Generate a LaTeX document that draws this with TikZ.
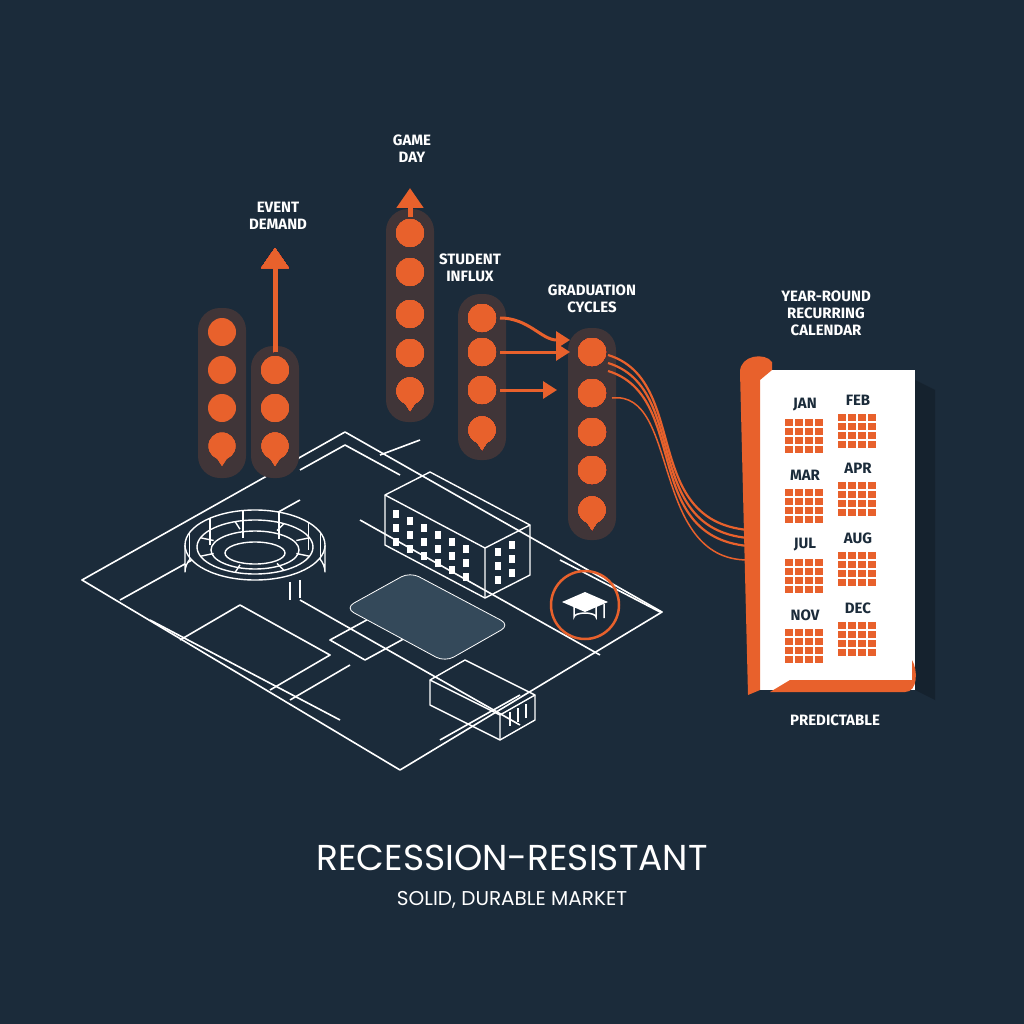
\documentclass[tikz,border=0pt]{standalone}
\usepackage{fontspec}
\setmainfont{Fira Sans}
\newfontfamily\titlefont{Poppins}
\usetikzlibrary{arrows.meta,calc}
\definecolor{bg}{HTML}{1B2B3A}
\definecolor{org}{HTML}{E8612C}
\definecolor{pad}{HTML}{34495A}
\colorlet{glow}{bg!82!org}
\newcommand\dotat[2]{\fill[org] (#1,#2) circle (14);}
\newcommand\pinat[2]{\fill[org] ($(#1,#2)+(-13,-6)$) arc (180:360:13) -- ($(#1,#2)+(0,14)$) -- cycle; \fill[org] ($(#1,#2)+(0,-6)$) circle (13.5);}
\tikzset{lbl/.style={text=white,font=\bfseries\fontsize{15}{17}\selectfont,align=center},
 mapl/.style={draw=white,line width=1.6pt,line join=round},
 arr/.style={org,line width=3pt,-{Triangle[length=14pt,width=17pt]}},
 bigarr/.style={org,line width=5pt,-{Triangle[length=20pt,width=26pt]}}}
\begin{document}
\begin{tikzpicture}[x=1pt,y=-1pt]
\fill[bg] (0,0) rectangle (1024,1024);
\useasboundingbox (0,0) rectangle (1024,1024);
% map
\draw[mapl] (82,580) -- (345,432) -- (662,612) -- (400,770) -- cycle;
\draw[mapl] (120,600) -- (300,500);
\draw[mapl] (180,640) -- (240,605) -- (330,655) -- (270,690);
\draw[mapl] (290,700) -- (350,665);
\draw[mapl] (150,620) -- (340,720);
\draw[mapl] (300,600) -- (520,725);
\draw[mapl] (360,520) -- (600,655);
\draw[mapl] (330,640) -- (385,610) -- (420,630) -- (365,660) -- cycle;
\draw[mapl] (300,470) -- (345,445) -- (400,475);
\draw[mapl] (380,455) -- (420,440);
\draw[mapl] (560,560) -- (660,612);
\draw[mapl] (440,740) -- (520,695);
\fill[pad,draw=white!60,line width=0.8pt,rounded corners=10pt] (345,608) -- (410,572) -- (510,625) -- (445,662) -- cycle;
% stadium
\begin{scope}[mapl,line width=1.4pt]
\draw[fill=bg] (185,545) -- (185,572) arc (180:360:70 and 35) -- (325,545);
\draw[fill=bg] (255,545) ellipse (70 and 35);
\draw (255,547) ellipse (58 and 27);
\draw (255,550) ellipse (44 and 19);
\draw (255,553) ellipse (30 and 11);
\foreach \a in {20,60,110,160,200,250,300,340} \draw (255,547)++(\a:58 and 27) -- ++(\a:-14 and -8);
\foreach \a in {200,230,260,290,320,340} \draw (255,545)++(\a:70 and 35) -- ++(0,27);
\draw (290,582) -- (290,600) (300,580) -- (300,598);
\end{scope}
% building
\begin{scope}[mapl,line width=1.4pt]
\draw (385,495) -- (430,472) -- (530,525) -- (530,575) -- (485,598) -- (385,545) -- cycle;
\draw (385,495) -- (485,548) -- (530,525) (485,548) -- (485,598);
\foreach \i in {0,1,2,3,4,5} \foreach \j in {0,1,2} \fill[white] (393+\i*14,510+\i*7+\j*14) rectangle ++(6,8);
\foreach \i in {0,1} \foreach \j in {0,1,2} \fill[white] (495+\i*14,548-\i*7+\j*14) rectangle ++(6,8);
\end{scope}
% house
\begin{scope}[mapl,line width=1.4pt]
\draw (430,680) -- (465,660) -- (535,695) -- (535,720) -- (500,740) -- (430,705) -- cycle;
\draw (430,680) -- (500,715) -- (535,695) (500,715) -- (500,740);
\foreach \i in {0,1,2} \draw (510+\i*8,712-\i*4) -- ++(0,14);
\end{scope}
% graduation
\draw[org,line width=2.5pt] (585,605) circle (34);
\fill[white] (585,592) -- (608,602) -- (585,612) -- (562,602) -- cycle;
\draw[white,line width=1.5pt] (574,607) -- (574,617) arc (180:360:11 and 4) -- (596,607) (604,604) -- (604,618);
% glows
\fill[glow,rounded corners=22pt] (198,308) rectangle (246,478);
\fill[glow,rounded corners=22pt] (251,346) rectangle (299,478);
\fill[glow,rounded corners=22pt] (386,209) rectangle (434,422);
\fill[glow,rounded corners=22pt] (458,294) rectangle (506,460);
\fill[glow,rounded corners=22pt] (568,328) rectangle (616,540);
% dots
\foreach \y in {332,370,408} \dotat{222}{\y}
\pinat{222}{452}
\foreach \y in {370,408} \dotat{275}{\y}
\pinat{275}{452}
\foreach \y in {233,272,314,353} \dotat{410}{\y}
\pinat{410}{397}
\foreach \y in {318,352,390} \dotat{482}{\y}
\pinat{482}{436}
\foreach \y in {352,393,432,470} \dotat{592}{\y}
\pinat{592}{516}
\draw[bigarr] (275,352) -- (275,248);
\draw[bigarr] (410,217) -- (410,188);
\draw[arr] (500,318) to[out=0,in=180] (570,340);
\draw[arr] (500,352) -- (570,352);
\draw[arr] (500,390) -- (557,390);
% ribbons
\foreach \d in {0,8,16} {
\draw[org,line width=2.2pt] (608,355+\d) .. controls (690,380+\d) and (640,520+\d) .. (748,530+\d);
}
\draw[org,line width=1.5pt] (612,398) .. controls (680,390) and (650,560) .. (748,560);
% calendar
\fill[black,opacity=0.2] (915,380) -- (935,390) -- (935,700) -- (915,690) -- cycle;
\fill[white] (750,370) rectangle (915,690);
\fill[org] (740,372) .. controls (740,355) and (765,352) .. (772,362) -- (772,370) -- (760,380) -- (760,690) -- (748,695) -- cycle;
\fill[org] (770,692) -- (905,692) .. controls (918,692) and (918,670) .. (912,660) -- (912,680) -- (790,680) -- cycle;
\foreach \m/\x/\y in {JAN/805/405,FEB/858/400,MAR/805/475,APR/858/468,JUL/805/545,AUG/858/538,NOV/805/615,DEC/858/608} {
 \node[text=bg,font=\bfseries\fontsize{15}{17}\selectfont] (m\m) at (\x,\y) {\m};
 \foreach \i in {0,1,2,3} \foreach \j in {0,1,2,3} \fill[org] (\x-20+\i*10,\y+14+\j*9) rectangle ++(8,7);
}
% labels
\node[lbl] (ev) at (278,216) {EVENT\\DEMAND};
\node[lbl] (gd) at (412,149) {GAME\\DAY};
\node[lbl] (si) at (470,268) {STUDENT\\INFLUX};
\node[lbl] (gc) at (592,299) {GRADUATION\\CYCLES};
\node[lbl] (yr) at (826,313) {YEAR-ROUND\\RECURRING\\CALENDAR};
\node[lbl] (pr) at (835,720) {PREDICTABLE};
\node[text=white,font=\titlefont\fontsize{36}{40}\selectfont] (t1) at (512,858) {RECESSION-RESISTANT};
\node[text=white,font=\titlefont\fontsize{20}{24}\selectfont] (t2) at (512,900) {SOLID, DURABLE MARKET};
\end{tikzpicture}
\end{document}
